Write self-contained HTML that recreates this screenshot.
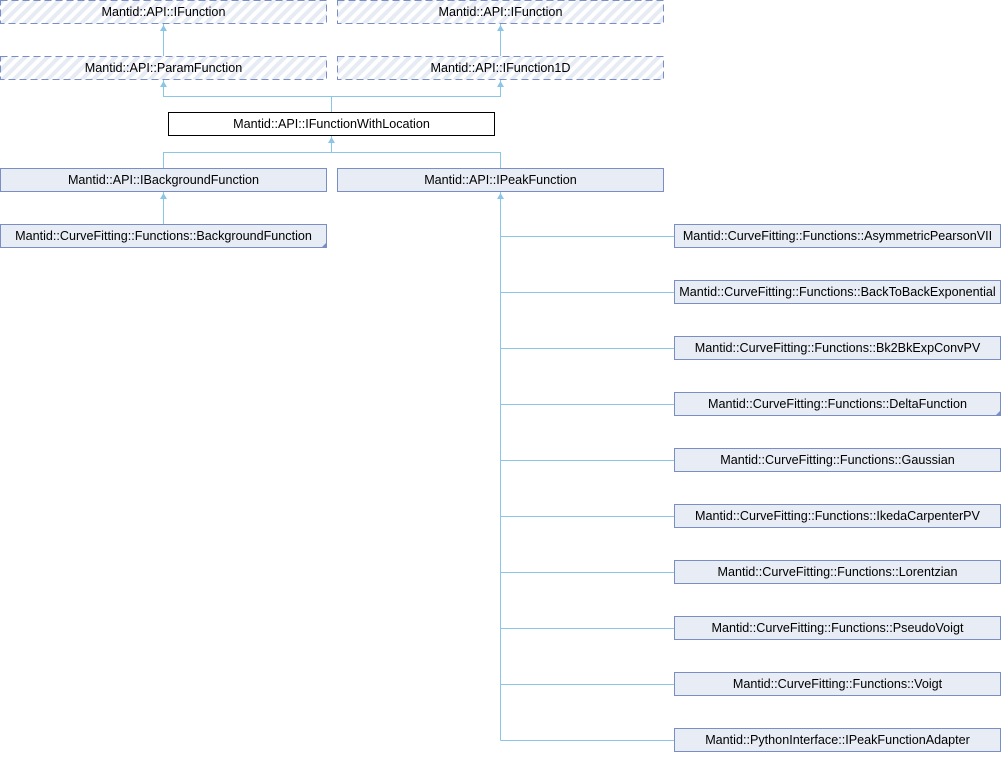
<!DOCTYPE html>
<html><head><meta charset="utf-8"><style>
html,body{margin:0;padding:0;background:#fff;}
svg text{font-family:"Liberation Sans",sans-serif;font-size:12.6px;fill:#000;}
</style></head><body>
<svg width="1001" height="752" viewBox="0 0 1001 752" xmlns="http://www.w3.org/2000/svg">
<defs>
<pattern id="h" patternUnits="userSpaceOnUse" width="8" height="8" patternTransform="rotate(45)">
<rect width="8" height="8" fill="#fff"/><rect width="4" height="8" fill="#e6ebf4"/>
</pattern>
</defs>
<g stroke="#8cc6e6" stroke-width="1" fill="none">
<line x1="163.5" y1="24" x2="163.5" y2="56"/>
<line x1="500.5" y1="24" x2="500.5" y2="56"/>
<polyline points="163.5,80 163.5,96.5 500.5,96.5 500.5,80"/>
<line x1="331.5" y1="96.5" x2="331.5" y2="112"/>
<polyline points="163.5,168 163.5,152.5 500.5,152.5 500.5,168"/>
<line x1="331.5" y1="136" x2="331.5" y2="152.5"/>
<line x1="163.5" y1="192" x2="163.5" y2="224"/>
<line x1="500.5" y1="192" x2="500.5" y2="740.5"/>
<line x1="500.5" y1="236.5" x2="675" y2="236.5"/>
<line x1="500.5" y1="292.5" x2="675" y2="292.5"/>
<line x1="500.5" y1="348.5" x2="675" y2="348.5"/>
<line x1="500.5" y1="404.5" x2="675" y2="404.5"/>
<line x1="500.5" y1="460.5" x2="675" y2="460.5"/>
<line x1="500.5" y1="516.5" x2="675" y2="516.5"/>
<line x1="500.5" y1="572.5" x2="675" y2="572.5"/>
<line x1="500.5" y1="628.5" x2="675" y2="628.5"/>
<line x1="500.5" y1="684.5" x2="675" y2="684.5"/>
<line x1="500.5" y1="740.5" x2="675" y2="740.5"/>
</g>
<g fill="#8cc6e6">
<polygon points="163.5,25 160,31 167,31"/>
<polygon points="500.5,25 497,31 504,31"/>
<polygon points="163.5,81 160,87 167,87"/>
<polygon points="500.5,81 497,87 504,87"/>
<polygon points="331.5,137 328,143 335,143"/>
<polygon points="163.5,193 160,199 167,199"/>
<polygon points="500.5,193 497,199 504,199"/>
</g>
<g stroke="#7a8ec6" stroke-dasharray="7,4" fill="url(#h)">
<rect x="0.5" y="0.5" width="326" height="23"/>
<rect x="337.5" y="0.5" width="326" height="23"/>
<rect x="0.5" y="56.5" width="326" height="23"/>
<rect x="337.5" y="56.5" width="326" height="23"/>
</g>
<rect x="168.5" y="112.5" width="326" height="23" fill="#fff" stroke="#000"/>
<g stroke="#7a8ec6" fill="#e8ecf5">
<rect x="0.5" y="168.5" width="326" height="23"/>
<rect x="337.5" y="168.5" width="326" height="23"/>
<rect x="0.5" y="224.5" width="326" height="23"/>
<rect x="674.5" y="224.5" width="326" height="23"/>
<rect x="674.5" y="280.5" width="326" height="23"/>
<rect x="674.5" y="336.5" width="326" height="23"/>
<rect x="674.5" y="392.5" width="326" height="23"/>
<rect x="674.5" y="448.5" width="326" height="23"/>
<rect x="674.5" y="504.5" width="326" height="23"/>
<rect x="674.5" y="560.5" width="326" height="23"/>
<rect x="674.5" y="616.5" width="326" height="23"/>
<rect x="674.5" y="672.5" width="326" height="23"/>
<rect x="674.5" y="728.5" width="326" height="23"/>
</g>
<g fill="#7a8ec6">
<polygon points="327,242 327,248 321,248"/>
<polygon points="1001,410 1001,416 995,416"/>
</g>
<g text-anchor="middle">
<text x="163.5" y="16">Mantid::API::IFunction</text>
<text x="500.5" y="16">Mantid::API::IFunction</text>
<text x="163.5" y="72">Mantid::API::ParamFunction</text>
<text x="500.5" y="72">Mantid::API::IFunction1D</text>
<text x="331.5" y="128">Mantid::API::IFunctionWithLocation</text>
<text x="163.5" y="184">Mantid::API::IBackgroundFunction</text>
<text x="500.5" y="184">Mantid::API::IPeakFunction</text>
<text x="163.5" y="240">Mantid::CurveFitting::Functions::BackgroundFunction</text>
<text x="837.5" y="240">Mantid::CurveFitting::Functions::AsymmetricPearsonVII</text>
<text x="837.5" y="296">Mantid::CurveFitting::Functions::BackToBackExponential</text>
<text x="837.5" y="352">Mantid::CurveFitting::Functions::Bk2BkExpConvPV</text>
<text x="837.5" y="408">Mantid::CurveFitting::Functions::DeltaFunction</text>
<text x="837.5" y="464">Mantid::CurveFitting::Functions::Gaussian</text>
<text x="837.5" y="520">Mantid::CurveFitting::Functions::IkedaCarpenterPV</text>
<text x="837.5" y="576">Mantid::CurveFitting::Functions::Lorentzian</text>
<text x="837.5" y="632">Mantid::CurveFitting::Functions::PseudoVoigt</text>
<text x="837.5" y="688">Mantid::CurveFitting::Functions::Voigt</text>
<text x="837.5" y="744">Mantid::PythonInterface::IPeakFunctionAdapter</text>
</g>
</svg>
</body></html>
